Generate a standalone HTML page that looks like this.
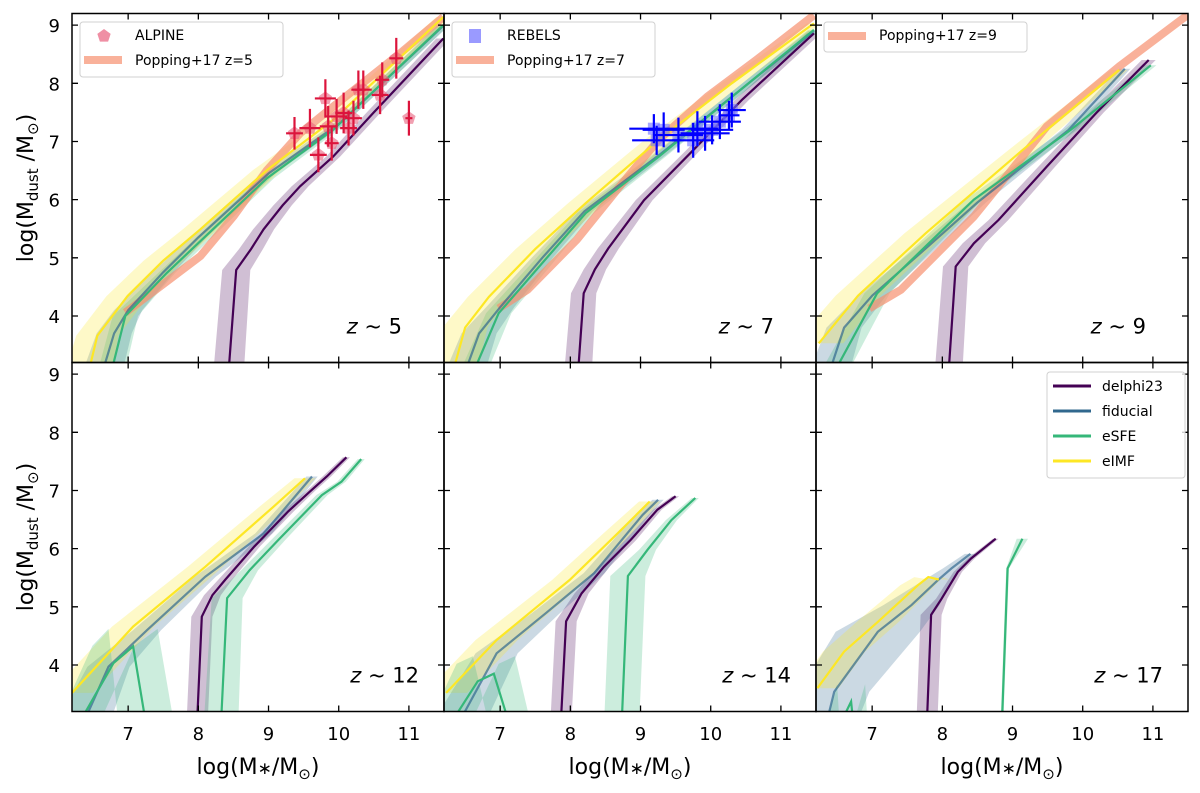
<!DOCTYPE html>
<html><head><meta charset="utf-8"><style>
body{margin:0;background:#fff;}
svg{display:block;font-family:"DejaVu Sans","Liberation Sans",sans-serif;}
</style></head><body>
<svg id="chart" width="1200" height="793" viewBox="0 0 1200 793"></svg>
<script>
// ---- data (panel order: z5, z7, z9, z12, z14, z17) ----
const panelLabels = ["5","7","9","12","14","17"];
const xTicks = [7,8,9,10,11];
const yTicks = [4,5,6,7,8,9];
const delphiX = [[8.41,8.54,8.75,8.93,9.2,9.45,9.92,10.5,11.49],[8.09,8.19,8.35,8.54,9.05,9.75,10.44,11.47],[8.07,8.19,8.45,8.8,9.49,10.2,10.94],[7.97,8.05,8.2,8.38,8.8,9.28,9.59,9.83,10.11],[7.85,7.94,8.16,8.48,8.86,9.24,9.5],[7.77,7.84,7.99,8.22,8.41,8.76]];
const delphiY = [[3.2,4.79,5.15,5.49,5.9,6.23,6.74,7.5,8.77],[3.2,4.39,4.8,5.16,5.99,6.85,7.71,8.86],[3.2,4.85,5.25,5.65,6.57,7.5,8.4],[3.17,4.83,5.2,5.46,6.04,6.64,6.98,7.24,7.57],[3.17,4.75,5.23,5.69,6.15,6.67,6.9],[3.2,4.86,5.14,5.6,5.83,6.17]];
const delphiW = [[0.22,0.2,0.17,0.15,0.13,0.12,0.1,0.1,0.1],[0.2,0.18,0.16,0.15,0.12,0.1,0.1,0.1],[0.2,0.18,0.16,0.14,0.12,0.1,0.1],[0.15,0.15,0.12,0.1,0.08,0.08,0.06,0.06,0.05],[0.15,0.15,0.1,0.08,0.08,0.06,0.05],[0.15,0.15,0.08,0.06,0.05,0.04]];
const fidX = [[6.55,6.8,7.0,7.5,8.0,9.0,10.0,11.5],[6.4,6.7,7.0,7.6,8.2,9.3,11.47],[6.3,6.6,7.0,7.8,8.5,9.8,10.6],[6.24,6.72,7.27,8.1,8.93,9.62],[6.26,6.95,7.65,8.34,9.03,9.25],[6.3,6.46,7.08,7.56,7.94,8.13,8.4]];
const fidY = [[3.2,3.7,4.1,4.75,5.35,6.45,7.3,9.0],[3.2,3.7,4.15,5.0,5.8,6.8,8.9],[3.2,3.8,4.35,5.2,5.95,7.2,8.25],[3.17,3.97,4.6,5.52,6.26,7.24],[3.17,4.2,4.89,5.58,6.58,6.84],[3.26,3.54,4.57,5.03,5.46,5.66,5.91]];
const fidW = [[0.3,0.25,0.2,0.15,0.12,0.1,0.08,0.08],[0.3,0.25,0.2,0.15,0.12,0.1,0.08],[0.3,0.25,0.2,0.15,0.12,0.1,0.08],[0.4,0.3,0.2,0.15,0.12,0.08],[0.4,0.3,0.2,0.15,0.1,0.08],[0.4,0.5,0.6,0.4,0.2,0.12,0.08]];
const esfeX = [[6.69,6.96,7.55,8.98,9.92,11.49],[6.5,6.98,8.22,9.26,11.47],[6.31,7.07,8.45,9.83,10.97],[8.31,8.41,8.73,9.14,9.76,10.04,10.32],[8.72,8.82,9.1,9.44,9.78],[8.84,8.93,9.14]];
const esfeY = [[3.2,4.0,4.74,6.37,7.2,9.0],[3.2,4.05,5.77,6.74,8.92],[3.2,4.39,6.0,7.2,8.31],[3.17,5.15,5.63,6.15,6.92,7.15,7.54],[3.17,5.53,5.98,6.49,6.87],[3.2,5.66,6.17]];
const esfeW = [[0.2,0.18,0.12,0.1,0.08,0.08],[0.2,0.18,0.12,0.1,0.08],[0.2,0.18,0.12,0.1,0.08],[0.25,0.22,0.12,0.1,0.08,0.06,0.05],[0.25,0.25,0.12,0.08,0.05],[0.02,0.02,0.08]];
const esfeLowX = [[],[],[],[6.24,6.79,7.07,7.27],[6.23,6.68,6.91,7.16],[6.51,6.7,6.74]];
const esfeLowY = [[],[],[],[3.17,4.03,4.32,3.17],[3.17,3.72,3.85,3.17],[3.2,3.37,3.2]];
const esfeLowW = [[],[],[],[0.3,0.3,0.35,0.4],[0.3,0.3,0.3,0.3],[0.2,0.2,0.2]];
const eimfX = [[6.37,6.56,6.99,7.5,8.03,8.98,9.92,11.49],[6.25,6.5,6.84,7.5,8.22,9.26,10.3,11.47],[6.24,6.8,7.76,9.14,10.52],[6.2,7.07,8.1,9.07,9.52],[6.23,6.95,7.99,8.68,9.13],[6.22,6.6,7.08,7.65,7.8,7.95]];
const eimfY = [[3.2,3.66,4.34,4.95,5.49,6.51,7.37,9.14],[3.2,3.8,4.33,5.15,5.94,7.03,8.0,9.03],[3.53,4.35,5.42,6.85,8.23],[3.52,4.66,5.69,6.72,7.21],[3.52,4.43,5.46,6.27,6.81],[3.6,4.23,4.74,5.37,5.51,5.47]];
const eimfW = [[0.35,0.3,0.3,0.28,0.25,0.2,0.15,0.1],[0.35,0.32,0.3,0.28,0.25,0.2,0.15,0.1],[0.35,0.32,0.3,0.2,0.12],[0.3,0.3,0.25,0.2,0.15],[0.3,0.3,0.25,0.2,0.15],[0.3,0.3,0.3,0.25,0.2,0.15]];
const poppingX = [[6.96,7.46,8.03,8.5,8.98,9.45,9.92,10.4,10.87,11.49],[6.98,7.39,8.09,8.78,9.26,9.95,10.65,11.47],[6.96,7.41,8.45,9.49,10.52,11.49]];
const poppingY = [[4.06,4.51,5.03,5.71,6.51,7.14,7.6,8.06,8.51,9.14],[4.13,4.45,5.31,6.34,7.03,7.77,8.4,9.17],[4.13,4.45,5.71,7.26,8.29,9.17]];
const alpineX = [9.37,9.59,9.71,9.81,9.85,9.9,9.97,10.07,10.14,10.21,10.28,10.35,10.59,10.62,10.82,11.0];
const alpineY = [7.14,7.23,6.77,7.74,7.26,6.97,7.43,7.49,7.23,7.4,7.89,7.89,7.8,8.06,8.43,7.4];
const alpineXerr = [0.12,0.15,0.12,0.15,0.12,0.1,0.15,0.12,0.12,0.12,0.1,0.12,0.12,0.1,0.1,0.05];
const alpineYerr = [0.28,0.33,0.3,0.33,0.35,0.3,0.3,0.35,0.3,0.3,0.33,0.33,0.33,0.3,0.35,0.3];
const rebelsX = [9.23,9.33,9.54,9.81,9.92,10.02,10.13,10.26,10.3,9.75,9.19];
const rebelsY = [7.02,7.2,7.11,7.22,7.14,7.2,7.34,7.45,7.54,7.02,7.22];
const rebelsXerr = [0.35,0.3,0.35,0.3,0.35,0.3,0.3,0.15,0.2,0.3,0.35];
const rebelsYerr = [0.25,0.3,0.3,0.3,0.3,0.25,0.3,0.25,0.3,0.3,0.25];

// ---- layout ----
const NS="http://www.w3.org/2000/svg";
const svg=document.getElementById('chart');
const LEFTS=[72,444,816], TOPS=[13.5,362.5], W=372, H=349;
const XMIN=6.2,XMAX=11.5,YMIN=3.2,YMAX=9.2;
const COL={delphi:"#440154",fid:"#31688e",esfe:"#35b779",eimf:"#fde725"};
function mk(tag,attrs,parent){const e=document.createElementNS(NS,tag);for(const k in attrs)e.setAttribute(k,attrs[k]);(parent||svg).appendChild(e);return e;}
function ax(p){const L=LEFTS[p%3];return v=>L+(v-XMIN)/(XMAX-XMIN)*W;}
function ay(p){const T=TOPS[Math.floor(p/3)];return v=>T+(YMAX-v)/(YMAX-YMIN)*H;}
function linePts(xs,ys,sx,sy){return xs.map((x,i)=>sx(x).toFixed(1)+","+sy(ys[i]).toFixed(1)).join(" ");}
function bandPts(xs,ys,ws,sx,sy){
  const up=xs.map((x,i)=>sx(x-ws[i]).toFixed(1)+","+sy(ys[i]).toFixed(1));
  const lo=xs.map((x,i)=>sx(x+ws[i]).toFixed(1)+","+sy(ys[i]).toFixed(1)).reverse();
  return up.concat(lo).join(" ");
}
const defs=mk('defs',{});
for(let p=0;p<6;p++){
  const cp=mk('clipPath',{id:'clip'+p},defs);
  mk('rect',{x:LEFTS[p%3],y:TOPS[Math.floor(p/3)],width:W,height:H},cp);
}
function extend(xs,ys){
  const x2=xs.slice(),y2=ys.slice();
  if(y2.length&&y2[0]<=3.3){y2[0]=y2[0]-0.5;}
  return [x2,y2];
}
for(let p=0;p<6;p++){
  const sx=ax(p),sy=ay(p);
  const g=mk('g',{'clip-path':'url(#clip'+p+')'});
  
  
  const series=[["delphi",delphiX,delphiY,delphiW],["fid",fidX,fidY,fidW],["esfe",esfeX,esfeY,esfeW],["eimf",eimfX,eimfY,eimfW]];
  series.forEach(s=>{
    const [xs,ys]=extend(s[1][p],s[2][p]);
    const b=mk('polygon',{points:bandPts(xs,ys,s[3][p],sx,sy),fill:COL[s[0]],'fill-opacity':0.25,stroke:'none'},g);
    
    
  });
  if(esfeLowX[p].length){
    const b=mk('polygon',{points:bandPts(esfeLowX[p],esfeLowY[p].map((v,i)=>v<=3.2?v-0.3:v+0.3),esfeLowW[p],sx,sy),fill:COL.esfe,'fill-opacity':0.25},g);
    
    
  }
  if(p<3){
    const pl=mk('polyline',{points:linePts(poppingX[p],poppingY[p],sx,sy),fill:'none',stroke:'#f7906f','stroke-opacity':0.7,'stroke-width':8,'stroke-linejoin':'round'},g);
    
    
  }
  series.forEach(s=>{
    const [xs,ys]=extend(s[1][p],s[2][p]);
    const l=mk('polyline',{points:linePts(xs,ys,sx,sy),fill:'none',stroke:COL[s[0]],'stroke-width':2.2,'stroke-opacity':s[0]==="fid"?0.7:1},g);
    
    
  });
  if(esfeLowX[p].length){
    const l=mk('polyline',{points:linePts(esfeLowX[p],esfeLowY[p].map(v=>v<=3.2?v-0.3:v),sx,sy),fill:'none',stroke:COL.esfe,'stroke-width':2.2},g);
    
    
  }
  function obs(X,Y,XE,YE,col,mcol,shape,name){
    X.forEach((x,i)=>{
      const cx=sx(x),cy=sy(Y[i]);
      if(shape==="pent"){const r=7;const pts=[];for(let k=0;k<5;k++){const a=-Math.PI/2+k*2*Math.PI/5;pts.push((cx+r*Math.cos(a)).toFixed(1)+","+(cy+r*Math.sin(a)).toFixed(1));}
        const m=mk('polygon',{points:pts.join(" "),fill:mcol,'fill-opacity':0.6},g);
        
        
      } else {
        const m=mk('rect',{x:cx-6,y:cy-6,width:12,height:12,fill:mcol,'fill-opacity':0.6},g);
        
        
      }
    });
    X.forEach((x,i)=>{
      const e=mk('path',{d:`M${sx(x-XE[i])},${sy(Y[i])}H${sx(x+XE[i])}M${sx(x)},${sy(Y[i]-YE[i])}V${sy(Y[i]+YE[i])}`,stroke:col,'stroke-width':2.2,fill:'none'},g);
      
      
    });
  }
  if(p===0)obs(alpineX,alpineY,alpineXerr,alpineYerr,"#dc143c","#e8607d","pent","alpine-point");
  if(p===1)obs(rebelsX,rebelsY,rebelsXerr,rebelsYerr,"#0000ff","#6f6fff","sq","rebels-point");
  const L=LEFTS[p%3],T=TOPS[Math.floor(p/3)];
  const fr=mk('rect',{x:L,y:T,width:W,height:H,fill:'none',stroke:'#000','stroke-width':1.5});
  
  
  let d="";
  xTicks.forEach(v=>{const x=sx(v);d+=`M${x},${T+H}v-6M${x},${T}v6`;});
  yTicks.forEach(v=>{const y=sy(v);d+=`M${L},${y}h6M${L+W},${y}h-6`;});
  const tk=mk('path',{d:d,stroke:'#000','stroke-width':1.3,fill:'none'});
  
  
  if(p>=3){xTicks.forEach(v=>{const t=mk('text',{x:sx(v),y:740,'text-anchor':'middle','font-size':18});t.textContent=v;
    
    });}
  if(p%3===0){yTicks.forEach(v=>{const t=mk('text',{x:60,y:sy(v)+7,'text-anchor':'end','font-size':18});t.textContent=v;
    
    });}
  const zl=mk('text',{x:L+(panelLabels[p].length>1?347:330),y:T+320,'text-anchor':'end','font-size':21});
  zl.innerHTML='<tspan font-style="italic">z</tspan> ~ '+panelLabels[p];
  
  
}
[0,1].forEach(r=>{
  const cy=TOPS[r]+H/2;
  const t=mk('text',{x:0,y:0,transform:`translate(33,${cy}) rotate(-90)`,'text-anchor':'middle','font-size':22});
  t.innerHTML='log(M<tspan font-size="15" dy="5">dust</tspan><tspan dy="-5"> /M</tspan><tspan font-size="15" dy="5">⊙</tspan><tspan dy="-5">)</tspan>';
  
  
});
[0,1,2].forEach(c=>{
  const t=mk('text',{x:LEFTS[c]+W/2,y:774,'text-anchor':'middle','font-size':22});
  t.innerHTML='log(M<tspan font-size="17">∗</tspan>/M<tspan font-size="15" dy="5">⊙</tspan><tspan dy="-5">)</tspan>';
  
  
});
function legBox(x,y,w,h,name){const r=mk('rect',{x:x,y:y,width:w,height:h,rx:3,fill:'#fff','fill-opacity':0.8,stroke:'#d0d0d0'});
  
  }
function legText(x,y,s){const t=mk('text',{x:x,y:y+5,'font-size':14});t.textContent=s;
  
  }
function legLine(x,y,col,w,op){const l=mk('line',{x1:x,y1:y,x2:x+38,y2:y,stroke:col,'stroke-width':w,'stroke-opacity':op});
  
  }
legBox(80,22,203,55,'legend-z5');
{const cx=104,cy=36,r=7,pts=[];for(let k=0;k<5;k++){const a=-Math.PI/2+k*2*Math.PI/5;pts.push((cx+r*Math.cos(a))+","+(cy+r*Math.sin(a)));}
 const m=mk('polygon',{points:pts.join(" "),fill:'#e8607d','fill-opacity':0.7});
 
 }
legText(135,35,'ALPINE');legLine(84,60,'#f7906f',8,0.7);legText(135,60,'Popping+17 z=5');
legBox(452,22,203,55,'legend-z7');
{const m=mk('rect',{x:469,y:29,width:12,height:14,fill:'#6f6fff','fill-opacity':0.7});
 
 }
legText(507,35,'REBELS');legLine(456,60,'#f7906f',8,0.7);legText(507,60,'Popping+17 z=7');
legBox(824,22,203,30,'legend-z9');
legLine(828,36,'#f7906f',8,0.7);legText(879,35,'Popping+17 z=9');
legBox(1047,372,138,106,'legend-models');
[["delphi23",COL.delphi],["fiducial",COL.fid],["eSFE",COL.esfe],["eIMF",COL.eimf]].forEach((e,i)=>{
  const y=386+i*25;legLine(1053,y,e[1],3,1);legText(1102,y,e[0]);
});
</script>
</body></html>
